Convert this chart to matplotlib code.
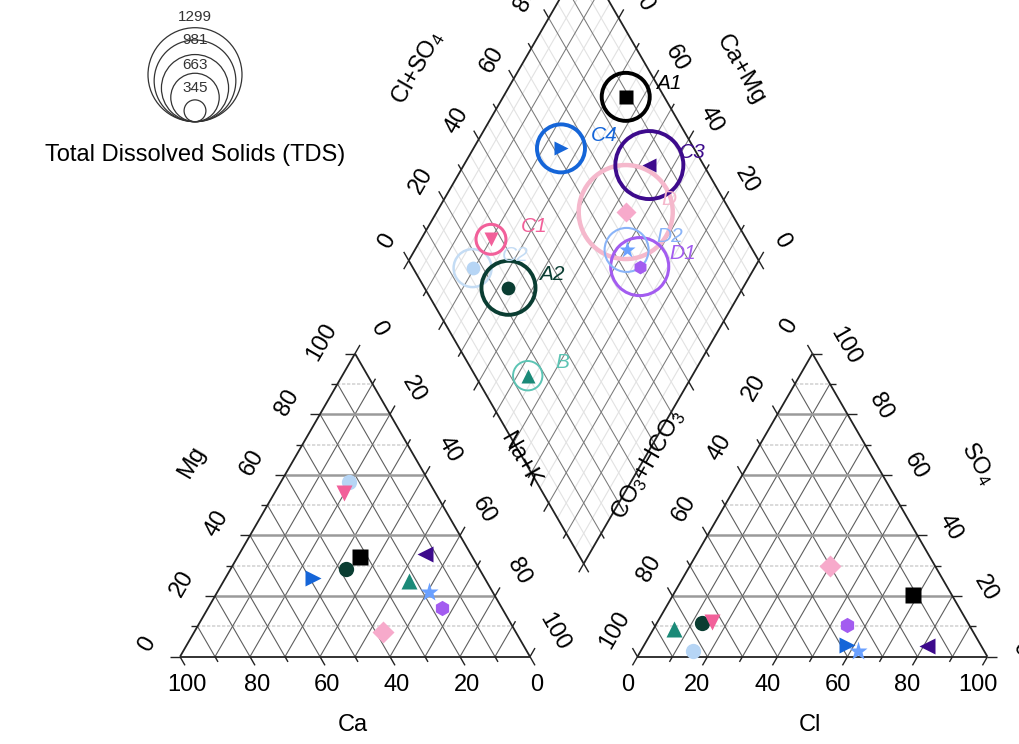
import numpy as np
import matplotlib.pyplot as plt
from matplotlib.patches import Circle

plt.rcParams['font.family'] = ['Liberation Sans', 'DejaVu Sans']
plt.rcParams['mathtext.fontset'] = 'custom'
plt.rcParams['mathtext.rm'] = 'Liberation Sans'
plt.rcParams['mathtext.it'] = 'Liberation Sans:italic'

# sample chemistry (meq %)
samples = ['A1', 'A2', 'B', 'C1', 'C2', 'C3', 'C4', 'D', 'D1', 'D2']
ca   = [32, 38, 22, 26, 23, 13, 49, 38, 17, 18]
mg   = [33, 29, 25, 54, 57.5, 34, 26, 8, 16, 21.5]
nak  = [35, 33, 53, 20, 19.5, 53, 25, 54, 67, 60.5]
hco3 = [11, 76, 85, 73, 83, 15.5, 38, 30, 35, 36]
so4  = [20.5, 11, 9, 11.5, 2, 3.5, 4, 30, 10.5, 2]
cl   = [68.5, 13, 6, 15.5, 15, 81, 58, 40, 54.5, 62]
tds  = [339, 429, 127, 132, 212, 680, 339, 1299, 495, 285]
tds_legend = [1299, 981, 663, 345]

markers = ['s', 'o', '^', 'v', 'o', '<', '>', 'D', 'h', '*']
colors = ['#000000', '#0a3d32', '#1b8a78', '#f2609a', '#b6d5f5',
          '#3d0a8c', '#1565d8', '#f7aacb', '#a35cf0', '#6aa0ff']
ring_colors = ['#000000', '#0a3d32', '#5cc4b4', '#f2609a', '#c4dcf4',
               '#3d0a8c', '#1565d8', '#f5b8cc', '#a35cf0', '#8ab4f8']
ring_lw = [2.8, 2.8, 1.4, 2.2, 1.8, 2.8, 2.8, 3.2, 2.2, 1.5]

GAP = 0.307
H = np.sqrt(3) / 2
PX = 350.0           # pixels per triangle side
TICK = 10 / PX
MTICK = 6 / PX
B0 = (1 + GAP / 2, GAP * H)


def cat_xy(c, m, n):
    return np.array([(n + m / 2) / 100, m / 100 * H])


def an_xy(h, s, c):
    return np.array([1 + GAP + (c + s / 2) / 100, s / 100 * H])


def dia_xy(camg, clso4):
    return np.array([B0[0] + (clso4 - camg) / 200, B0[1] + (camg + clso4) / 100 * H])


def off(p, dx, dy):
    return p + np.array([dx, -dy]) / PX


def px(x, y):
    return ((x - 180) / PX, (656.7 - y) / PX)


fig = plt.figure(figsize=(10.2, 7.44), dpi=100)
ax = fig.add_axes([0, 0, 1, 1])
ax.set_xlim(-180 / PX, 840 / PX)
ax.set_ylim(-87.3 / PX, 656.7 / PX)
ax.axis('off')


def seg(p, q, **kw):
    ax.plot([p[0], q[0]], [p[1], q[1]], solid_capstyle='butt', **kw)


dark = dict(color='#5e5e5e', lw=0.8, zorder=1)
ddark = dict(color='#7a7a7a', lw=0.75, zorder=1)
light = dict(color='#e2e2e2', lw=0.8, zorder=0.5)
hmajor = dict(color='#9a9a9a', lw=1.8, zorder=1)
hminor = dict(color='#d4d4d4', lw=1.2, ls=(0, (2, 1)), zorder=0.5)
edge = dict(color='#222222', lw=1.3, zorder=2)
tick = dict(color='#222222', lw=1.0, zorder=2)

d_dl = np.array([-0.5, -H])
d_dr = np.array([0.5, -H])
d_ul = np.array([-0.5, H])
d_ur = np.array([0.5, H])
d_l = np.array([-1.0, 0])
d_r = np.array([1.0, 0])

# cation triangle
for v in range(10, 100, 10):
    seg(cat_xy(v, 0, 100 - v), cat_xy(v, 100 - v, 0), **dark)
    seg(cat_xy(100 - v, 0, v), cat_xy(0, 100 - v, v), **dark)
    seg(cat_xy(100 - v, v, 0), cat_xy(0, v, 100 - v), **(hmajor if v % 20 == 0 else hminor))
seg(cat_xy(100, 0, 0), cat_xy(0, 0, 100), **edge)
seg(cat_xy(100, 0, 0), cat_xy(0, 100, 0), **edge)
seg(cat_xy(0, 0, 100), cat_xy(0, 100, 0), **edge)
for v in range(0, 101, 10):
    L = TICK if v % 20 == 0 else MTICK
    p = cat_xy(v, 0, 100 - v); seg(p, p + L * d_dr, **tick)
    p = cat_xy(100 - v, v, 0); seg(p, p + L * d_l, **tick)
    p = cat_xy(0, 100 - v, v); seg(p, p + L * d_ur, **tick)

# anion triangle
for v in range(10, 100, 10):
    seg(an_xy(100 - v, 0, v), an_xy(0, 100 - v, v), **dark)
    seg(an_xy(v, 0, 100 - v), an_xy(v, 100 - v, 0), **dark)
    seg(an_xy(100 - v, v, 0), an_xy(0, v, 100 - v), **(hmajor if v % 20 == 0 else hminor))
seg(an_xy(100, 0, 0), an_xy(0, 0, 100), **edge)
seg(an_xy(100, 0, 0), an_xy(0, 100, 0), **edge)
seg(an_xy(0, 0, 100), an_xy(0, 100, 0), **edge)
for v in range(0, 101, 10):
    L = TICK if v % 20 == 0 else MTICK
    p = an_xy(100 - v, 0, v); seg(p, p + L * d_dl, **tick)
    p = an_xy(0, v, 100 - v); seg(p, p + L * d_r, **tick)
    p = an_xy(v, 100 - v, 0); seg(p, p + L * d_ul, **tick)

# diamond
for v in range(5, 100, 5):
    st = ddark if v % 10 == 0 else light
    seg(dia_xy(0, v), dia_xy(100, v), **st)
    seg(dia_xy(v, 0), dia_xy(v, 100), **st)
corners = [dia_xy(0, 0), dia_xy(100, 0), dia_xy(100, 100), dia_xy(0, 100), dia_xy(0, 0)]
for a, b in zip(corners[:-1], corners[1:]):
    seg(a, b, **edge)
for v in range(0, 101, 10):
    L = TICK if v % 20 == 0 else MTICK
    p = dia_xy(100, v); seg(p, p + L * d_ul, **tick)
    p = dia_xy(v, 100); seg(p, p + L * d_ur, **tick)
    p = dia_xy(v, 0); seg(p, p + L * d_dl, **tick)
    p = dia_xy(0, v); seg(p, p + L * d_dr, **tick)

# tick labels
fs = 17
for v in range(0, 101, 20):
    s = str(v)
    ax.text(*off(cat_xy(v, 0, 100 - v), 7, 28), s, fontsize=fs, ha='center', va='center')
    ax.text(*off(cat_xy(100 - v, v, 0), -33, -12), s, fontsize=fs, ha='center', va='center', rotation=60)
    ax.text(*off(cat_xy(0, 100 - v, v), 24, -25), s, fontsize=fs, ha='center', va='center', rotation=-60)
    ax.text(*off(an_xy(100 - v, 0, v), -10, 28), s, fontsize=fs, ha='center', va='center')
    ax.text(*off(an_xy(0, v, 100 - v), 33, -8), s, fontsize=fs, ha='center', va='center', rotation=-60)
    ax.text(*off(an_xy(v, 100 - v, 0), -23, -27), s, fontsize=fs, ha='center', va='center', rotation=60)
    ax.text(*off(dia_xy(100, v), -22, -19), s, fontsize=fs, ha='center', va='center', rotation=60)
    ax.text(*off(dia_xy(v, 100), 23, -20), s, fontsize=fs, ha='center', va='center', rotation=-60)

# axis titles
ax.text(*px(353, 725), 'Ca', fontsize=fs, ha='center', va='center')
ax.text(*px(192, 462), 'Mg', fontsize=fs, ha='center', va='center', rotation=60)
ax.text(*px(520, 460), 'Na+K', fontsize=fs, ha='center', va='center', rotation=-60)
ax.text(*px(810, 725), 'Cl', fontsize=fs, ha='center', va='center')
ax.text(*px(978, 463), r'SO$_4$', fontsize=fs, ha='center', va='center', rotation=-60)
ax.text(*px(648, 465), r'CO$_3$+HCO$_3$', fontsize=fs, ha='center', va='center', rotation=60)
ax.text(*px(418, 68), r'Cl+SO$_4$', fontsize=fs, ha='center', va='center', rotation=60)
ax.text(*px(740, 70), 'Ca+Mg', fontsize=fs, ha='center', va='center', rotation=-60)

# samples
K = 1.304 / PX       # TDS circle radius scale
order = [7, 8, 9, 4, 0, 1, 2, 3, 5, 6]
for i in order:
    pc = cat_xy(ca[i], mg[i], nak[i])
    pa = an_xy(hco3[i], so4[i], cl[i])
    pd = dia_xy(ca[i] + mg[i], cl[i] + so4[i])
    ms = 14 if markers[i] == '*' else 11
    ax.plot(*pc, marker=markers[i], ms=ms, color=colors[i], mec='none', zorder=5)
    ax.plot(*pa, marker=markers[i], ms=ms, color=colors[i], mec='none', zorder=5)
    ax.plot(*pd, marker=markers[i], ms=ms * 0.9, color=colors[i], mec='none', zorder=5)
    ax.add_patch(Circle(pd, K * np.sqrt(tds[i]), fill=False, ec=ring_colors[i],
                        lw=ring_lw[i], zorder=4))
    dx = 35 if samples[i] == 'B' else 43
    ax.text(*off(pd, dx, -13), samples[i], fontsize=15, style='italic',
            color=ring_colors[i], ha='center', va='center', zorder=6)

# TDS legend
cx, base = px(195, 121.7)
for v in tds_legend + [70]:
    r = K * np.sqrt(v)
    ax.add_patch(Circle((cx, base + r), r, fill=False, ec='#333333', lw=0.9))
lab_y = [17, 40, 65, 88]
for v, y in zip(tds_legend, lab_y):
    ax.text(*px(195, y), str(v), fontsize=11, ha='center', va='center', color='#333333')
ax.text(*px(195, 155), 'Total Dissolved Solids (TDS)', fontsize=17, ha='center', va='center')

fig.savefig('out.png', dpi=100)
